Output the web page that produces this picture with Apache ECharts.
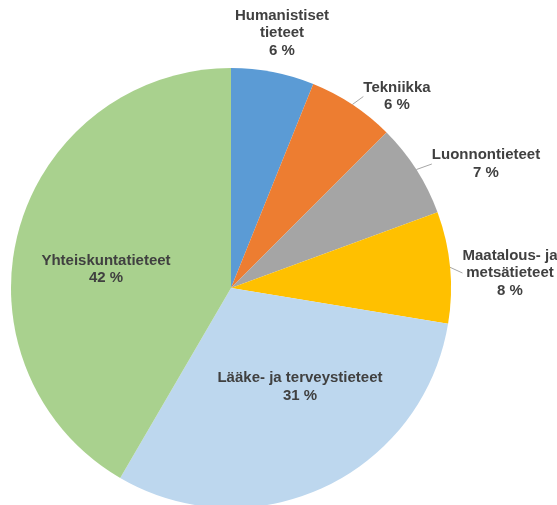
<!DOCTYPE html>
<html>
<head>
<meta charset="utf-8">
<script src="https://cdn.jsdelivr.net/npm/echarts@6/dist/echarts.min.js"></script>
<style>
  html, body { margin: 0; padding: 0; background: #fff; }
  #main { width: 557px; height: 505px; }
</style>
</head>
<body>
<div id="main"></div>
<script>
// kategoriat ja osuudet (%)
var categories = ['Humanistiset\ntieteet', 'Tekniikka', 'Luonnontieteet', 'Maatalous- ja\nmetsätieteet', 'Lääke- ja terveystieteet', 'Yhteiskuntatieteet'];
var values = [6.1, 6.4, 6.9, 8.2, 30.8, 41.6];
var colors = ['#5B9BD5', '#ED7D31', '#A5A5A5', '#FFC000', '#BDD7EE', '#A9D18E'];

// label-paikat (keskipiste)
var labelPos = [[282, 33], [397, 96.5], [486, 164], [510, 273], [300, 387], [106, 269.5]];
var outside = [true, true, true, true, false, false];
var showLine = [false, true, true, true, false, false];

var chart = echarts.init(document.getElementById('main'));

var seriesData = categories.map(function (name, i) {
  return {
    name: name,
    value: values[i],
    itemStyle: { color: colors[i] },
    label: { position: outside[i] ? 'outside' : 'inside' },
    labelLine: { show: showLine[i] }
  };
});

chart.setOption({
  animation: false,
  series: [{
    type: 'pie',
    center: [231, 288],
    radius: [0, 220],
    startAngle: 90,
    clockwise: true,
    avoidLabelOverlap: false,
    label: {
      show: true,
      formatter: function (p) {
        return p.name + '\n' + Math.round(p.value) + ' %';
      },
      fontFamily: 'Liberation Sans Narrow, Arial Narrow, sans-serif',
      fontWeight: 'bold',
      fontSize: 15,
      lineHeight: 17.5,
      color: '#404040',
      align: 'center'
    },
    labelLine: {
      length: 6,
      length2: 0,
      lineStyle: { color: '#A6A6A6', width: 1 }
    },
    labelLayout: function (params) {
      var p = labelPos[params.dataIndex];
      return { x: p[0], y: p[1], align: 'center', verticalAlign: 'middle' };
    },
    data: seriesData
  }]
});
</script>
</body>
</html>
